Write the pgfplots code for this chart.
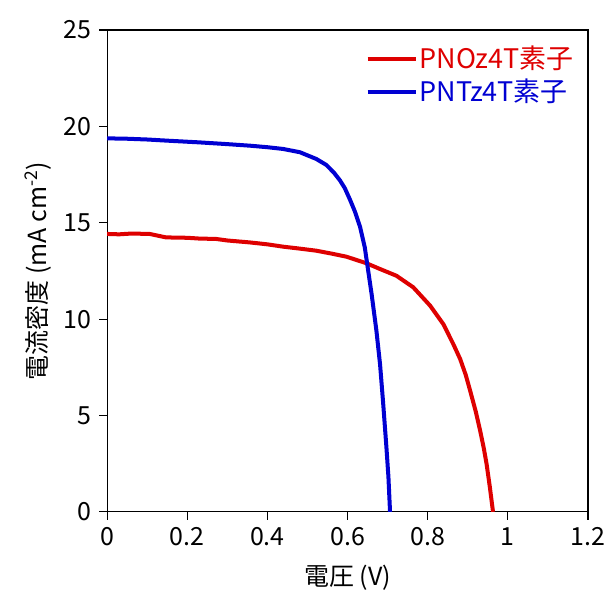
\documentclass[border=0pt]{standalone}
\usepackage{pgfplots}
\pgfplotsset{compat=1.18}
\usepackage{fontspec}
\setmainfont{Noto Sans CJK JP}
\definecolor{cred}{RGB}{222,0,0}
\definecolor{cblue}{RGB}{0,0,210}
\begin{document}
\fontsize{25}{29}\selectfont
\begin{tikzpicture}
\begin{axis}[
  scale only axis,
  width=480bp, height=481bp,
  xmin=0, xmax=1.2, ymin=0, ymax=25,
  xtick={0,0.2,0.4,0.6,0.8,1,1.2},
  xticklabels={0,0.2,0.4,0.6,0.8,1,1.2},
  ytick={0,5,10,15,20,25},
  tick align=outside,
  xtick pos=bottom, ytick pos=left,
  major tick length=8bp,
  axis line style={line width=1.3bp},
  every tick/.style={black, line width=1.1bp},
  /pgf/number format/assume math mode=true,
  tick label style={font=\fontsize{25}{29}\selectfont},
  yticklabel style={xshift=1bp},
  xticklabel style={yshift=1bp},
  label style={font=\fontsize{25}{29}\selectfont},
  xlabel={電圧 (V)},
  ylabel={電流密度 (mA cm\textsuperscript{-2})},
  every axis x label/.style={at={(axis description cs:0.5,-0.137)}, anchor=center},
  every axis y label/.style={at={(axis description cs:-0.1437,0.5)}, rotate=90, anchor=center},
  legend style={at={(0.975,0.972)}, anchor=north east, draw=none, fill=none,
    font=\fontsize{27}{31}\selectfont, row sep=3bp, inner sep=0pt,
    nodes={inner sep=2bp}},
  legend cell align=left,
  legend image code/.code={\draw[#1, line width=4bp] (0bp,0bp) -- (48bp,0bp);},
]
\addplot[cred, line width=4bp] coordinates {
(0,14.42) (0.03,14.40) (0.06,14.44) (0.106,14.42) (0.147,14.24) (0.2,14.22)
(0.23,14.18) (0.272,14.16) (0.3,14.08) (0.356,13.98) (0.4,13.88) (0.439,13.76)
(0.48,13.66) (0.522,13.55) (0.56,13.40) (0.597,13.24) (0.647,12.90) (0.681,12.60)
(0.722,12.25) (0.764,11.65) (0.806,10.70) (0.839,9.74) (0.864,8.70) (0.881,7.93)
(0.895,7.10) (0.906,6.28) (0.92,5.20) (0.931,4.20) (0.94,3.30) (0.947,2.48)
(0.955,1.30) (0.963,0)
};
\addlegendentry{\textcolor{cred}{PNOz4T素子}}
\addplot[cblue, line width=4bp] coordinates {
(0,19.38) (0.05,19.36) (0.1,19.32) (0.15,19.26) (0.231,19.17) (0.3,19.08)
(0.356,19.00) (0.4,18.92) (0.439,18.83) (0.481,18.66) (0.522,18.31) (0.547,18.00)
(0.566,17.60) (0.581,17.20) (0.593,16.80) (0.606,16.20) (0.618,15.60) (0.631,14.80)
(0.643,13.72) (0.649,12.86) (0.66,11.30) (0.672,9.40) (0.681,7.67)
(0.689,5.59) (0.697,3.34) (0.702,1.80) (0.706,0)
};
\addlegendentry{\textcolor{cblue}{PNTz4T素子}}
\end{axis}
\pgfresetboundingbox
\path ([xshift=-107bp,yshift=-79bp]current axis.south west) rectangle ([xshift=23bp,yshift=30bp]current axis.north east);
\end{tikzpicture}
\end{document}
